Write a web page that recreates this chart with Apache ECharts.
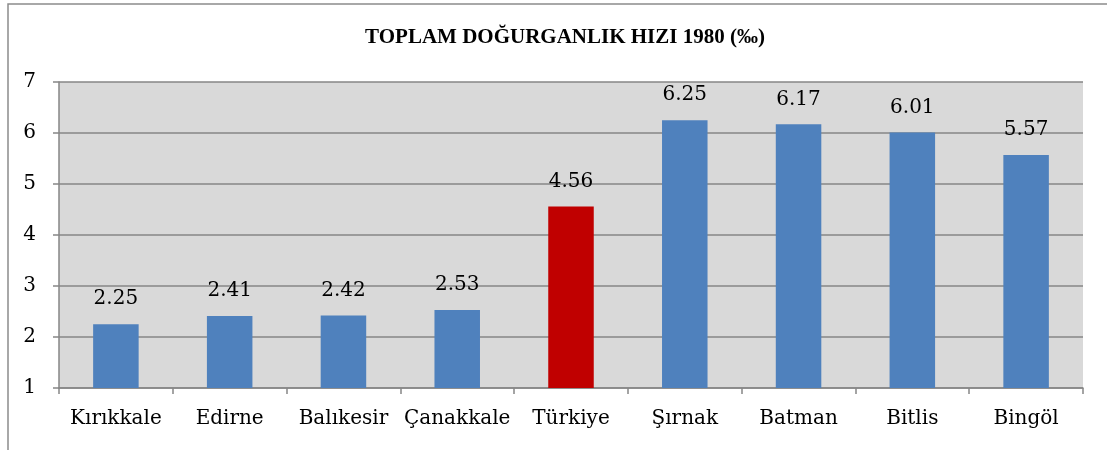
<!DOCTYPE html>
<html>
<head>
<meta charset="utf-8">
<script src="https://cdn.jsdelivr.net/npm/echarts@6/dist/echarts.min.js"></script>
<style>
  html, body { margin: 0; padding: 0; background: #fff; }
  #main { width: 1107px; height: 450px; }
</style>
</head>
<body>
<div id="main"></div>
<script>
const chart = echarts.init(document.querySelector('#main'))

const TITLE = 'TOPLAM DOĞURGANLIK HIZI 1980 (‰)'
const CITIES = ['Kırıkkale', 'Edirne', 'Balıkesir', 'Çanakkale', 'Türkiye', 'Şırnak', 'Batman', 'Bitlis', 'Bingöl']
const RATES = [2.25, 2.41, 2.42, 2.53, 4.56, 6.25, 6.17, 6.01, 5.57]
const Y_TICKS = [1, 2, 3, 4, 5, 6, 7]
const HIGHLIGHT = 'Türkiye'

const FONT = '"DejaVu Serif", serif'
const GRAY = '#868686'

chart.setOption({
  animation: false,
  title: {
    text: TITLE,
    left: 560,
    top: 22,
    textAlign: 'center',
    textStyle: {
      fontFamily: '"Liberation Serif", serif',
      fontWeight: 'bold',
      fontSize: 21,
      color: '#000'
    }
  },
  graphic: [{
    type: 'rect',
    silent: true,
    shape: { x: 8, y: 4, width: 1200, height: 500 },
    style: { fill: 'none', stroke: '#8c8c8c', lineWidth: 1.5 }
  }],
  grid: {
    left: 59,
    right: 24,
    top: 82,
    bottom: 62,
    show: true,
    backgroundColor: '#d9d9d9',
    borderWidth: 0
  },
  xAxis: {
    type: 'category',
    data: CITIES,
    axisLine: { lineStyle: { color: GRAY, width: 1.5 } },
    axisTick: { show: true, length: 6, lineStyle: { color: GRAY, width: 1.5 } },
    axisLabel: { interval: 0, fontFamily: FONT, fontSize: 20, color: '#000', margin: 21 }
  },
  yAxis: {
    type: 'value',
    min: Y_TICKS[0],
    max: Y_TICKS[Y_TICKS.length - 1],
    interval: 1,
    axisLine: { show: true, lineStyle: { color: GRAY, width: 1.5 } },
    axisTick: { show: true, length: 6, lineStyle: { color: GRAY, width: 1.5 } },
    splitLine: { show: true, lineStyle: { color: GRAY, width: 1.5 } },
    axisLabel: { fontFamily: FONT, fontSize: 20, color: '#000', margin: 23 }
  },
  series: [{
    type: 'bar',
    barWidth: '40%',
    data: RATES,
    itemStyle: {
      color: p => CITIES[p.dataIndex] === HIGHLIGHT ? '#c00000' : '#4f81bd'
    },
    label: {
      show: true,
      position: 'top',
      distance: 15,
      fontFamily: FONT,
      fontSize: 20,
      color: '#000',
      formatter: p => p.value.toFixed(2)
    }
  }]
})
</script>
</body>
</html>
